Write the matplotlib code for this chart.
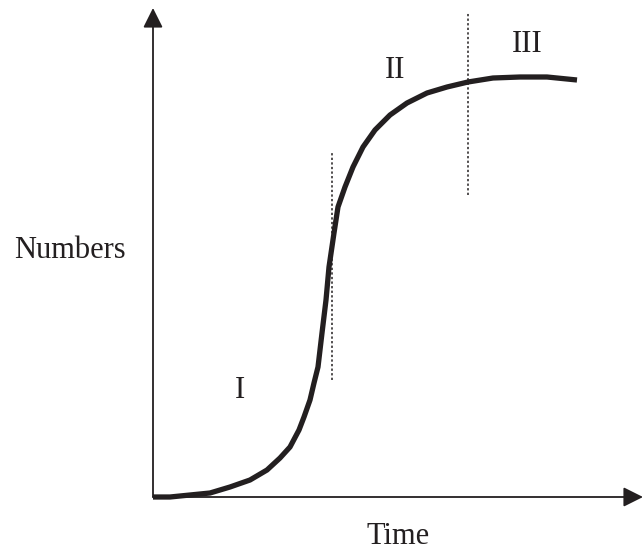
import matplotlib.pyplot as plt

# curve (pixel offsets from the origin)
time_pts = [0, 17, 37, 57, 77, 97, 114, 127, 137, 146, 151, 157, 161, 165, 169, 173, 176,
            181, 185, 192, 200, 210, 222, 237, 254, 274, 294, 315, 340, 367, 394, 424]
num_pts = [0, 0, 2, 4, 10, 17, 27, 39, 50, 67, 80, 97, 114, 130, 164, 197, 230,
           264, 290, 310, 330, 350, 367, 382, 394, 404, 410, 415, 419, 420, 420, 417]

# phase boundaries (x, y_start, y_end)
boundaries = [(179, 117, 345), (315, 302, 485)]
phase_labels = ['I', 'II', 'III']
phase_pos = [(87, 107), (242, 427), (374, 452)]

ink = '#231f20'
plt.rcParams['font.family'] = ['Liberation Serif', 'DejaVu Serif']

fig = plt.figure(figsize=(6.43, 5.52), dpi=100)
ax = fig.add_axes([153 / 643, 55 / 552, 490 / 643, 489 / 552])
ax.set_xlim(0, 490)
ax.set_ylim(0, 489)
ax.axis('off')

# axes with arrow heads
arrow = dict(arrowstyle='-|>,head_length=0.6,head_width=0.3', lw=1.3, color=ink,
             mutation_scale=20, shrinkA=0, shrinkB=0)
ax.annotate('', xy=(0, 489), xytext=(0, 0), arrowprops=arrow, annotation_clip=False)
ax.annotate('', xy=(490, 0), xytext=(0, 0), arrowprops=arrow, annotation_clip=False)

ax.plot(time_pts, num_pts, color=ink, lw=3.8, solid_capstyle='butt',
        solid_joinstyle='round', clip_on=False)

for x, y0, y1 in boundaries:
    ax.plot([x, x], [y0, y1], color=ink, lw=1.1, ls=(0, (1.5, 1.5)))

for lab, (x, y) in zip(phase_labels, phase_pos):
    ax.text(x, y, lab, fontsize=22, color=ink, ha='center', va='center')

fig.text(398 / 643, 1 - 537 / 552, 'Time', fontsize=22, color=ink, ha='center', va='center')
fig.text(70 / 643, 1 - 250 / 552, 'Numbers', fontsize=22, color=ink, ha='center', va='center')

fig.savefig('out.png', dpi=100)
